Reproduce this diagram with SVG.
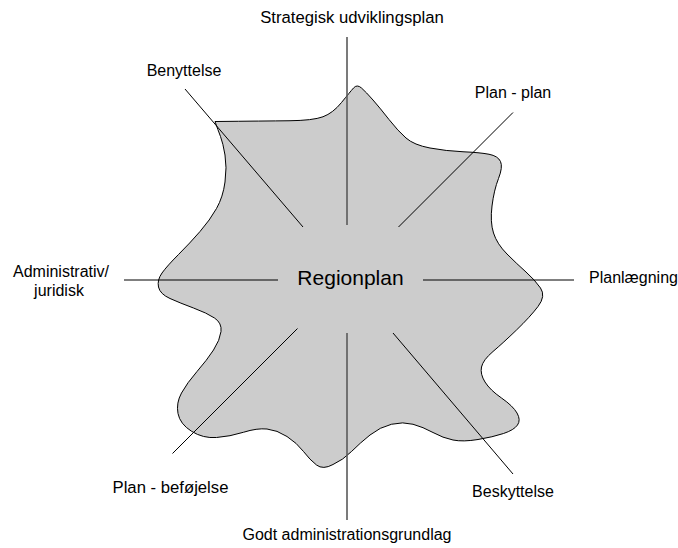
<svg xmlns="http://www.w3.org/2000/svg" width="678" height="548" viewBox="0 0 678 548">
<style>
.lbl{font-family:"Liberation Sans",Arial,sans-serif;font-size:16px;fill:#000}
.wide{font-size:16.7px}
.big{font-family:"Liberation Sans",Arial,sans-serif;font-size:21px;fill:#000}
.c{stroke:#000;stroke-width:1;fill:none}
.v{stroke:#5a5a5a;stroke-width:1.6;fill:none}
</style>
<rect width="678" height="548" fill="#fff"/>
<g id="blob">
<path d="M215,121.5 Q265,121 289,120.75 Q313,120.5 323,116.75 Q333,113 341.5,102.5 Q350,92 353.5,88 Q357,84 361.5,88 Q366,92 373,100 Q380,108 389,119.5 Q398,131 406,138 Q414,145 430,148 Q446,151 463,151.75 Q480,152.5 489,154.25 Q498,156 500.5,161.5 Q503,167 498.5,178.5 Q494,190 492,206 Q490,222 493.5,233 Q497,244 507,254 Q517,264 526,272 Q535,280 540.5,288 Q546,296 538,306.5 Q530,317 516.5,330 Q503,343 493,351.5 Q483,360 481.5,367 Q480,374 485,382 Q490,390 501.5,398 Q513,406 517,413 Q521,420 517.5,425 Q514,430 503.5,433.5 Q493,437 478,439.5 Q463,442 453,440 Q443,438 433,432.5 Q423,427 413,424.25 Q403,421.5 391.5,424.25 Q380,427 370,435 Q360,443 351.5,451.5 Q343,460 333,464.5 Q323,470 316.5,465 Q310,460 303.5,451.5 Q297,443 287,436.5 Q277,430 267,429 Q257,428 243.5,432.25 Q230,436.5 216.5,437.5 Q203,438.5 191.5,431.25 Q180,424 178,413.5 Q176,403 181.5,393 Q187,383 197,371.5 Q207,360 213.5,350 Q220,340 221,331.5 Q222,323 214.5,318 Q207,313 193.5,308 Q180,303 170,298.5 Q160,294 158.5,287 Q157,280 162,273 Q167,266 178.5,254.5 Q190,243 200,231.5 Q210,220 216.5,208.5 Q223,197 225,182 Q227,167 225,155 Q223,143 220.5,136.5 Q218,130 215,121.5 Z" fill="#cccccc" stroke="#000" stroke-width="1"/>
</g>
<g id="connectors">
<line class="v" x1="347" y1="37" x2="347" y2="225"/>
<line class="v" x1="347" y1="333" x2="347" y2="520"/>
<line class="c" x1="124" y1="280" x2="278" y2="280"/>
<line class="c" x1="423" y1="280" x2="574" y2="280"/>
<line class="c" x1="185" y1="89" x2="303" y2="227"/>
<line class="c" x1="513" y1="112.5" x2="398.5" y2="227"/>
<line class="c" x1="297.5" y1="328.5" x2="172.5" y2="453.5"/>
<line class="c" x1="393" y1="333" x2="513" y2="474"/>
</g>
<g id="center"><text class="big" x="350.5" y="285" text-anchor="middle">Regionplan</text></g>
<g id="n-strategisk"><text class="lbl wide" x="352" y="23" text-anchor="middle">Strategisk udviklingsplan</text></g>
<g id="n-benyttelse"><text class="lbl" x="184" y="76" text-anchor="middle">Benyttelse</text></g>
<g id="n-planplan"><text class="lbl" x="513" y="98" text-anchor="middle">Plan - plan</text></g>
<g id="n-planlaegning"><text class="lbl" x="589" y="283">Planlægning</text></g>
<g id="n-administrativ"><text class="lbl" x="61" y="277" text-anchor="middle">Administrativ/</text><text class="lbl" x="59" y="296" text-anchor="middle">juridisk</text></g>
<g id="n-befoejelse"><text class="lbl wide" x="170.5" y="493" text-anchor="middle">Plan - beføjelse</text></g>
<g id="n-beskyttelse"><text class="lbl" x="513" y="497" text-anchor="middle">Beskyttelse</text></g>
<g id="n-godt"><text class="lbl" x="347" y="540" text-anchor="middle">Godt administrationsgrundlag</text></g>
</svg>
